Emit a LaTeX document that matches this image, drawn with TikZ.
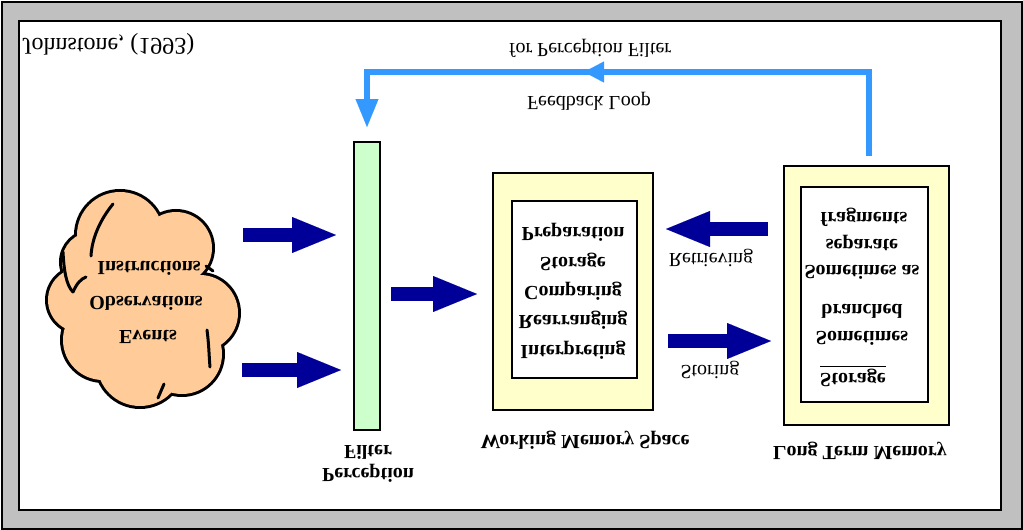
\documentclass[tikz,border=0pt]{standalone}
\usepackage{fontspec}
\setmainfont{Liberation Serif}
\usetikzlibrary{arrows.meta,decorations.markings}
\definecolor{framegray}{HTML}{C0C0C0}
\definecolor{navyblue}{HTML}{000099}
\definecolor{fbblue}{HTML}{3399FF}
\definecolor{cloudfill}{HTML}{FFCC99}
\definecolor{boxyellow}{HTML}{FFFFCC}
\definecolor{filtergreen}{HTML}{CCFFCC}
\begin{document}
\begin{tikzpicture}[x=0.5pt,y=-0.5pt,
  lbl/.style={yscale=-1, font=\fontsize{10pt}{12pt}\selectfont\bfseries, inner sep=0pt},
  rlbl/.style={yscale=-1, font=\fontsize{10pt}{12pt}\selectfont, inner sep=0pt},
  bigarrow/.style={draw=navyblue, line width=7pt, -{Triangle[length=22pt,width=18pt,line width=0.01pt]}},
  fbline/.style={draw=fbblue, line width=3.3pt, -{Triangle[length=14pt,width=11.5pt,line width=0.01pt]}},
  cloudline/.style={draw=black, line width=1.5pt, line cap=round},
  outerbox/.style={draw=black, line width=1pt, fill=boxyellow, inner sep=0pt},
  innerbox/.style={draw=black, line width=1pt, fill=white, inner sep=0pt},
  filterbox/.style={draw=black, line width=1pt, fill=filtergreen, inner sep=0pt},
]
\useasboundingbox (0,0) rectangle (1023,530);
% frame
\path[fill=framegray, draw=black, line width=1pt] (1.5,1.5) rectangle (1021.5,528.5);
\path[fill=white, draw=black, line width=1pt] (19,21) rectangle (1001,510);

\node[rlbl, font=\fontsize{12pt}{14pt}\selectfont, anchor=west] (cite) at (22,44) {Johnstone, (1993)};

% cloud: union of lobes, outline only on the outside
\def\cloudlobes{(120,235) circle[radius=43] (176,248) circle[radius=36]
  (200,313) circle[radius=38] (182,354) circle[radius=40] (140,363) circle[radius=43]
  (103,340) circle[radius=40] (80,300) circle[radius=32] (92,262) circle[radius=30]
  (145,300) circle[radius=52]}
\path[draw=black, line width=3pt] \cloudlobes;
\path[fill=cloudfill] \cloudlobes;
\draw[cloudline] (113,204) .. controls (100,220) and (92,238) .. (91,256);
\draw[cloudline] (63,252) .. controls (64,270) and (66,285) .. (73,292);
\draw[cloudline] (73,292) .. controls (77,283) and (81,279) .. (86,277);
\draw[cloudline] (206,266) -- (213,271);
\draw[cloudline] (207,330) .. controls (209,345) and (209,356) .. (210,367);
\draw[cloudline] (164,384) -- (158,398);
\node[lbl] (instr) at (149,268) {Instructions};
\node[lbl] (obs) at (146,303) {Observations};
\node[lbl] (events) at (148,337) {Events};

% filter
\node[filterbox, minimum width=13pt, minimum height=144pt] (filter) at (367,286) {};
\node[lbl] (filterlbl) at (368,452) {Filter};
\node[lbl] (perclbl) at (368,473) {Perception};

% working memory
\node[outerbox, minimum width=80pt, minimum height=118.5pt] (wmo) at (573,291.5) {};
\node[innerbox, minimum width=62.5pt, minimum height=88.5pt] (wmi) at (574.5,289.5) {};
\node[lbl] (wm1) at (573,232) {Preparation};
\node[lbl] (wm2) at (573,262) {Storage};
\node[lbl] (wm3) at (573,291) {Comparing};
\node[lbl] (wm4) at (573,320) {Rearranging};
\node[lbl] (wm5) at (573,350) {Interpreting};
\node[lbl] (wmlbl) at (585,440) {Working Memory Space};

% long term memory
\node[outerbox, minimum width=82.5pt, minimum height=129.5pt] (ltmo) at (866.5,295.5) {};
\node[innerbox, minimum width=63.5pt, minimum height=107.5pt] (ltmi) at (864.5,294.5) {};
\node[lbl] (lt1) at (864,217) {fragments};
\node[lbl] (lt2) at (862,243) {separate};
\node[lbl] (lt3) at (862,272) {Sometimes as};
\node[lbl] (lt4) at (862,311) {branched};
\node[lbl] (lt5) at (862,338) {Sometimes};
\node[lbl] (lt6) at (853,376) {\underline{Storage}};
\node[lbl] (ltmlbl) at (860,451) {Long Term Memory};

% arrow labels
\node[rlbl] (retr) at (711,258) {Retrieving};
\node[rlbl] (stor) at (710,370) {Storing};

% navy block arrows
\coordinate (in1) at (243,235);
\coordinate (in2) at (242,370);
\draw[bigarrow, shorten >=8.5pt] (in1) -- (in1 -| filter.west);
\draw[bigarrow, shorten >=6pt] (in2) -- (in2 -| filter.west);
\draw[bigarrow, shorten <=5pt, shorten >=7.5pt] (filter.east |- 0,294) -- (wmo.west |- 0,294);
\draw[bigarrow, shorten <=7.5pt, shorten >=6pt] (ltmo.west |- 0,229) -- (wmo.east |- 0,229);
\draw[bigarrow, shorten <=7pt, shorten >=6pt] (wmo.east |- 0,341) -- (ltmo.west |- 0,341);

% feedback loop
\coordinate (fbtop) at (367,72);
\draw[fbline, shorten >=7pt,
  postaction={decorate, decoration={markings,
    mark=at position 184.5pt with {\arrow{Triangle[length=10pt,width=10.5pt,line width=0.01pt]}}}}]
  ([shift={(2.5,-9)}]ltmo.north) |- (fbtop) -- (filter.north);
\node[rlbl] (fbl1) at (590,48) {for Perception Filter};
\node[rlbl] (fbl2) at (589,101) {Feedback Loop};
\end{tikzpicture}
\end{document}
